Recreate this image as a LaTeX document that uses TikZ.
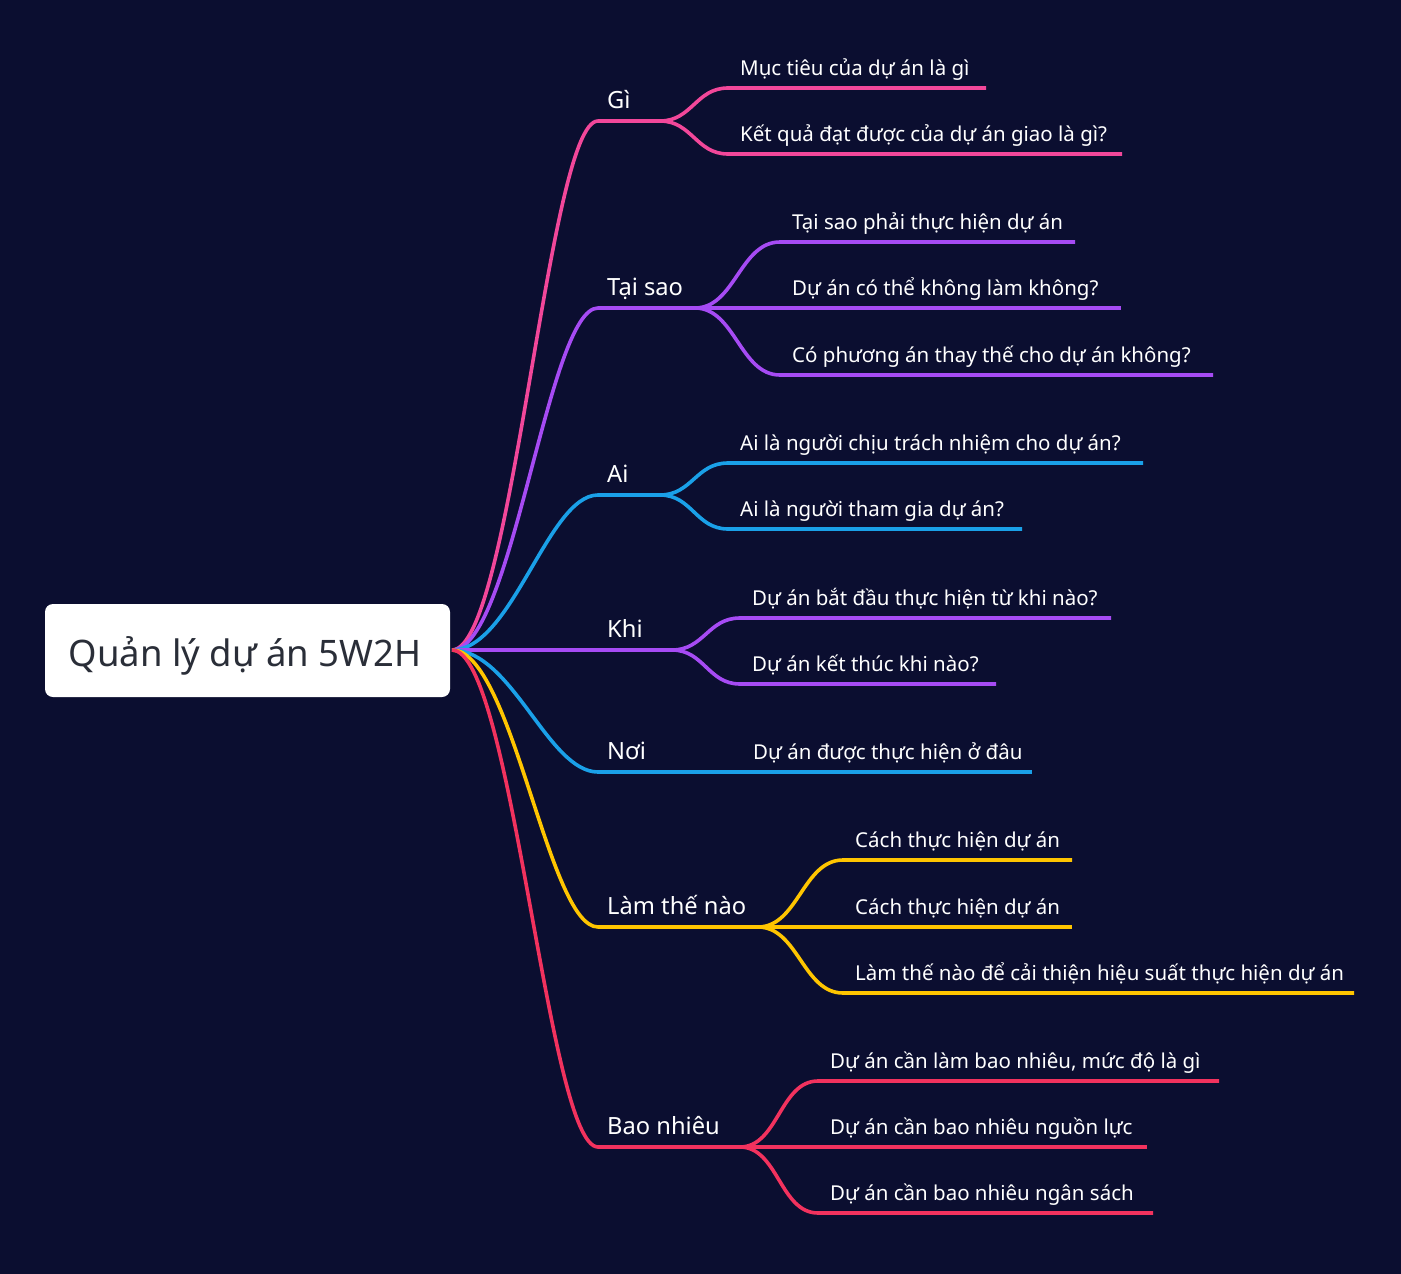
\documentclass[tikz,border=0pt]{standalone}
\usepackage{fontspec}
\setmainfont{Noto Sans}
\definecolor{bg}{HTML}{0B0E30}
\definecolor{cpink}{HTML}{F2479A}
\definecolor{cpurple}{HTML}{A64BF4}
\definecolor{cblue}{HTML}{1AA0E8}
\definecolor{cyellow}{HTML}{FFC500}
\definecolor{cred}{HTML}{F2325E}
\definecolor{rootText}{HTML}{2A2E38}
\tikzset{
  rootbox/.style={draw=none,fill=white,rounded corners=8pt,minimum width=405pt,minimum height=93pt,inner sep=0pt,text=rootText,font=\fontsize{36.5}{42}\selectfont},
  mainlbl/.style={anchor=base west,inner sep=0pt,text=white,font=\fontsize{23.7}{28}\selectfont},
  sublbl/.style={anchor=base west,inner sep=0pt,text=white,font=\fontsize{20.5}{24}\selectfont},
  link/.style={line width=3.6pt},
}
\begin{document}
\begin{tikzpicture}[x=1pt,y=-1pt]
\fill[bg] (0,0) rectangle (1401,1274);
\useasboundingbox (0,0) rectangle (1401,1274);
\node[rootbox] (rootbg) at (247.5,650.5) {};
\node[anchor=base,inner sep=0pt,text=rootText,font=\fontsize{36.5}{42}\selectfont] (root) at (245,666) {Quản lý dự án 5W2H};
\coordinate (rs) at (452,650);
% ---------- Gì
\coordinate (giL) at (598,121); \coordinate (giR) at (660,121);
\node[mainlbl] (gi) at (607,108) {Gì};
\coordinate (gi1L) at (728,88); \coordinate (gi1R) at (986,88);
\coordinate (gi2L) at (728,154); \coordinate (gi2R) at (1122,154);
\node[sublbl] (gi1) at (740,75) {Mục tiêu của dự án là gì};
\node[sublbl] (gi2) at (740,141) {Kết quả đạt được của dự án giao là gì?};
\draw[link,cpink] (rs) .. controls +(60,0) and +(-50,0) .. (giL) -- (giR);
\draw[link,cpink] (giR) .. controls +(32,0) and +(-32,0) .. (gi1L) -- (gi1R);
\draw[link,cpink] (giR) .. controls +(32,0) and +(-32,0) .. (gi2L) -- (gi2R);
% ---------- Tại sao
\coordinate (tsL) at (598,308); \coordinate (tsR) at (695,308);
\node[mainlbl] (ts) at (607,295) {Tại sao};
\coordinate (ts1L) at (780,242); \coordinate (ts1R) at (1075,242);
\coordinate (ts2R) at (1121,308);
\coordinate (ts3L) at (780,375); \coordinate (ts3R) at (1213,375);
\node[sublbl] (ts1) at (792,229) {Tại sao phải thực hiện dự án};
\node[sublbl] (ts2) at (792,295) {Dự án có thể không làm không?};
\node[sublbl] (ts3) at (792,362) {Có phương án thay thế cho dự án không?};
\draw[link,cpurple] (rs) .. controls +(60,0) and +(-50,0) .. (tsL) -- (tsR);
\draw[link,cpurple] (tsR) .. controls +(40,0) and +(-40,0) .. (ts1L) -- (ts1R);
\draw[link,cpurple] (tsR) -- (ts2R);
\draw[link,cpurple] (tsR) .. controls +(40,0) and +(-40,0) .. (ts3L) -- (ts3R);
% ---------- Ai
\coordinate (aiL) at (598,495); \coordinate (aiR) at (660,495);
\node[mainlbl] (ai) at (607,482) {Ai};
\coordinate (ai1L) at (728,463); \coordinate (ai1R) at (1143,463);
\coordinate (ai2L) at (728,529); \coordinate (ai2R) at (1022,529);
\node[sublbl] (ai1) at (740,450) {Ai là người chịu trách nhiệm cho dự án?};
\node[sublbl] (ai2) at (740,516) {Ai là người tham gia dự án?};
\draw[link,cblue] (rs) .. controls +(60,0) and +(-50,0) .. (aiL) -- (aiR);
\draw[link,cblue] (aiR) .. controls +(32,0) and +(-32,0) .. (ai1L) -- (ai1R);
\draw[link,cblue] (aiR) .. controls +(32,0) and +(-32,0) .. (ai2L) -- (ai2R);
% ---------- Khi
\coordinate (khR) at (672,650);
\node[mainlbl] (kh) at (607,637) {Khi};
\coordinate (kh1L) at (740,618); \coordinate (kh1R) at (1111,618);
\coordinate (kh2L) at (740,684); \coordinate (kh2R) at (996,684);
\node[sublbl] (kh1) at (752,605) {Dự án bắt đầu thực hiện từ khi nào?};
\node[sublbl] (kh2) at (752,671) {Dự án kết thúc khi nào?};
\draw[link,cpurple] (rs) -- (khR);
\draw[link,cpurple] (khR) .. controls +(32,0) and +(-32,0) .. (kh1L) -- (kh1R);
\draw[link,cpurple] (khR) .. controls +(32,0) and +(-32,0) .. (kh2L) -- (kh2R);
% ---------- Nơi
\coordinate (noL) at (598,772); \coordinate (noR) at (655,772);
\node[mainlbl] (no) at (607,759) {Nơi};
\coordinate (no1R) at (1032,772);
\node[sublbl] (no1) at (753,759) {Dự án được thực hiện ở đâu};
\draw[link,cblue] (rs) .. controls +(60,0) and +(-50,0) .. (noL) -- (noR);
\draw[link,cblue] (noR) -- (no1R);
% ---------- Làm thế nào
\coordinate (ltL) at (598,927); \coordinate (ltR) at (758,927);
\node[mainlbl] (lt) at (607,914) {Làm thế nào};
\coordinate (lt1L) at (843,860); \coordinate (lt1R) at (1072,860);
\coordinate (lt2R) at (1072,927);
\coordinate (lt3L) at (843,993); \coordinate (lt3R) at (1354,993);
\node[sublbl] (lt1) at (855,847) {Cách thực hiện dự án};
\node[sublbl] (lt2) at (855,914) {Cách thực hiện dự án};
\node[sublbl] (lt3) at (855,980) {Làm thế nào để cải thiện hiệu suất thực hiện dự án};
\draw[link,cyellow] (rs) .. controls +(60,0) and +(-50,0) .. (ltL) -- (ltR);
\draw[link,cyellow] (ltR) .. controls +(40,0) and +(-40,0) .. (lt1L) -- (lt1R);
\draw[link,cyellow] (ltR) -- (lt2R);
\draw[link,cyellow] (ltR) .. controls +(40,0) and +(-40,0) .. (lt3L) -- (lt3R);
% ---------- Bao nhiêu
\coordinate (bnL) at (598,1147); \coordinate (bnR) at (740,1147);
\node[mainlbl] (bn) at (607,1134) {Bao nhiêu};
\coordinate (bn1L) at (818,1081); \coordinate (bn1R) at (1219,1081);
\coordinate (bn2R) at (1147,1147);
\coordinate (bn3L) at (818,1213); \coordinate (bn3R) at (1153,1213);
\node[sublbl] (bn1) at (830,1068) {Dự án cần làm bao nhiêu, mức độ là gì};
\node[sublbl] (bn2) at (830,1134) {Dự án cần bao nhiêu nguồn lực};
\node[sublbl] (bn3) at (830,1200) {Dự án cần bao nhiêu ngân sách};
\draw[link,cred] (rs) .. controls +(60,0) and +(-50,0) .. (bnL) -- (bnR);
\draw[link,cred] (bnR) .. controls +(38,0) and +(-38,0) .. (bn1L) -- (bn1R);
\draw[link,cred] (bnR) -- (bn2R);
\draw[link,cred] (bnR) .. controls +(38,0) and +(-38,0) .. (bn3L) -- (bn3R);
\end{tikzpicture}
\end{document}
